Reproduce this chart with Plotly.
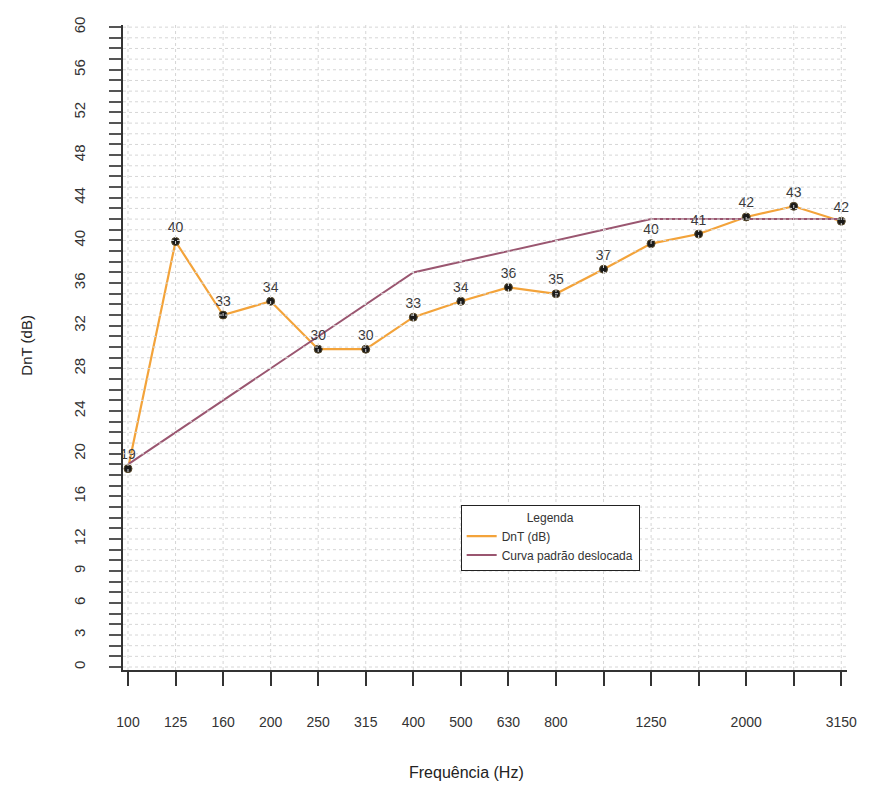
import plotly.graph_objects as go

freqs = ["100", "125", "160", "200", "250", "315", "400", "500", "630", "800",
         "1000", "1250", "1600", "2000", "2500", "3150"]
freq_labels = ["100", "125", "160", "200", "250", "315", "400", "500", "630", "800",
               "", "1250", "", "2000", "", "3150"]
dnt = [18.6, 39.9, 33.0, 34.3, 29.8, 29.8, 32.8, 34.3, 35.6, 35.0,
       37.3, 39.7, 40.6, 42.2, 43.2, 41.8]
curva = [19, 22, 25, 28, 31, 34, 37, 38, 39, 40, 41, 42, 42, 42, 42, 42]
y_labeled = [0, 3, 6, 9, 12, 16, 20, 24, 28, 32, 36, 40, 44, 48, 52, 56, 60]
y_ticks = list(range(0, 61))
dntw = 38
dntw_freq = "500"

ORANGE = "#F3A33A"
PURPLE = "#9A5670"
FONT = "Liberation Sans"

fig = go.Figure()

fig.add_trace(go.Scatter(x=freqs, y=dnt, mode="lines", name="DnT (dB)",
                         line=dict(color=ORANGE, width=2.2)))
fig.add_trace(go.Scatter(x=freqs, y=curva, mode="lines", name="Curva padrão deslocada",
                         line=dict(color=PURPLE, width=2)))
fig.add_trace(go.Scatter(x=freqs, y=dnt, mode="markers+text", showlegend=False,
                         marker=dict(color="#1a1a1a", size=8,
                                     line=dict(color="#5a4a2a", width=1)),
                         text=[f"{v:.0f}" for v in dnt], textposition="top center",
                         textfont=dict(family=FONT, size=14, color="#3a3a3a"),
                         cliponaxis=False))

GRID = dict(color="#D6D6D6", width=1, dash="dot")
shapes = []
for yv in y_ticks:
    shapes.append(dict(type="line", xref="paper", yref="y", x0=0, x1=1, y0=yv, y1=yv,
                       line=GRID, layer="above"))
for i, fv in enumerate(freqs):
    shapes.append(dict(type="line", xref="x", yref="paper", x0=i, x1=i, y0=0, y1=1,
                       line=GRID, layer="above"))

fig.update_layout(
    width=869, height=807,
    margin=dict(l=123, r=17, t=25, b=137),
    paper_bgcolor="white", plot_bgcolor="white",
    font=dict(family=FONT, size=13, color="#333333"),
    shapes=shapes,
    showlegend=True,
    legend=dict(x=(463 - 123) / 729, y=(670 - 505) / 645, xanchor="left", yanchor="top",
                bgcolor="white", bordercolor="#222222", borderwidth=1,
                font=dict(family=FONT, size=12, color="#333333"),
                title=dict(text="Legenda", side="top center",
                           font=dict(family=FONT, size=12, color="#333333")),
                tracegroupgap=0, itemwidth=30, entrywidth=160, entrywidthmode="pixels"),
    xaxis=dict(type="category", categoryorder="array", categoryarray=freqs,
               range=[-0.105, 15.12], tickmode="array", tickvals=freqs, ticktext=freq_labels,
               showgrid=False, zeroline=False, showline=True, linecolor="#333333", linewidth=1.5,
               ticks="outside", ticklen=14, tickwidth=1.5, tickcolor="#333333",
               ticklabelstandoff=24, tickfont=dict(family=FONT, size=14, color="#333333"),
               layer="above traces"),
    yaxis=dict(range=[-0.28, 60.2], tickmode="array", tickvals=y_ticks,
               ticktext=[str(v) if v in y_labeled else "" for v in y_ticks],
               tickangle=-90, showgrid=False, zeroline=False, showline=True,
               linecolor="#333333", linewidth=1.5, ticks="outside", ticklen=12,
               tickwidth=2, tickcolor="#555555", ticklabelstandoff=18,
               tickfont=dict(family=FONT, size=15, color="#333333"),
               layer="above traces"),
    annotations=[
        dict(x=dntw_freq, y=42, xref="x", yref="y", text=f"DnT,w= {dntw} dB",
             showarrow=False, font=dict(family=FONT, size=27, color="#111111")),
        dict(x=(469 - 123) / 729, y=(670 - 772) / 645, xref="paper", yref="paper",
             text="Frequência (Hz)", showarrow=False, yanchor="middle",
             font=dict(family=FONT, size=16, color="#222222")),
        dict(x=(25 - 123) / 729, y=(670 - 345) / 645, xref="paper", yref="paper",
             text="DnT (dB)", showarrow=False, textangle=-90, xanchor="center",
             font=dict(family=FONT, size=15, color="#222222")),
    ],
)

fig.write_html("out.html")
